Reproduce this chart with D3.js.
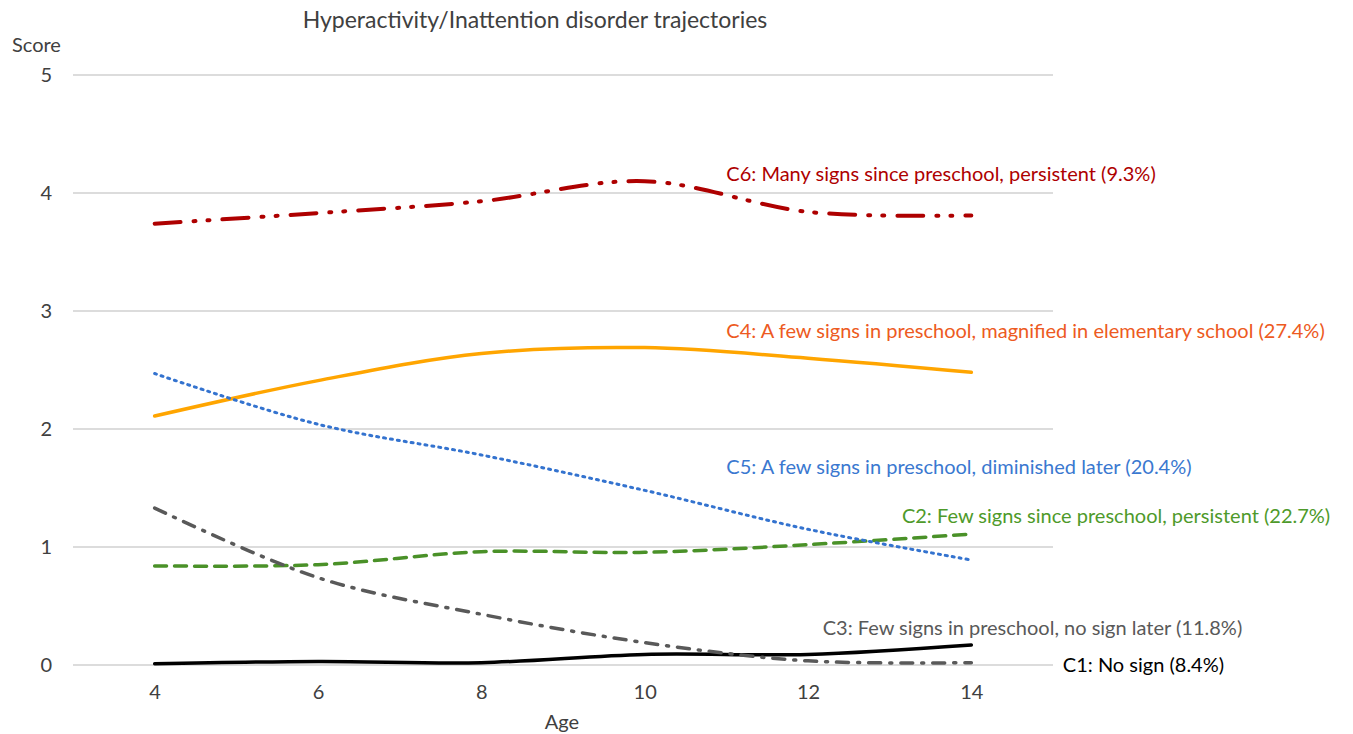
<!DOCTYPE html>
<html>
<head>
<meta charset="utf-8">
<script src="https://cdn.jsdelivr.net/npm/d3@7"></script>
<style>
  body { margin: 0; background: #fff; }
  svg text { font-family: Lato, "Open Sans", sans-serif; }
</style>
</head>
<body>
<div id="chart"></div>
<script>
// ----------- DATA ------------
const ages = [4, 6, 8, 10, 12, 14];
const yTicks = [0, 1, 2, 3, 4, 5];
const xTicks = [4, 6, 8, 10, 12, 14];

const c1Values = [0.01, 0.03, 0.02, 0.09, 0.09, 0.17];
const c2Values = [0.84, 0.85, 0.96, 0.955, 1.02, 1.11];
const c3Values = [1.33, 0.74, 0.43, 0.19, 0.035, 0.02];
const c4Values = [2.11, 2.41, 2.64, 2.69, 2.60, 2.48];
const c5Values = [2.47, 2.04, 1.78, 1.48, 1.15, 0.89];
const c6Values = [3.74, 3.83, 3.93, 4.10, 3.84, 3.81];

const seriesLabels = [
  'C1: No sign (8.4%)',
  'C2: Few signs since preschool, persistent (22.7%)',
  'C3: Few signs in preschool, no sign later (11.8%)',
  'C4: A few signs in preschool, magnified in elementary school (27.4%)',
  'C5: A few signs in preschool, diminished later (20.4%)',
  'C6: Many signs since preschool, persistent (9.3%)',
];

const series = [
  { key: 'C1', values: c1Values, color: '#000000', label: '#000000', dash: null, width: 3.5, lx: 15.12, ly: 0.0 },
  { key: 'C2', values: c2Values, color: '#4A9128', label: '#4E9A2A', dash: '12 8', width: 3.5, lx: 13.15, ly: 1.26 },
  { key: 'C3', values: c3Values, color: '#595959', label: '#595959', dash: '12 9 2 9', width: 3.5, lx: 12.18, ly: 0.31 },
  { key: 'C4', values: c4Values, color: '#FFA500', label: '#ED5A22', dash: null, width: 3.5, lx: 11.0, ly: 2.83 },
  { key: 'C5', values: c5Values, color: '#3473CF', label: '#3A78D0', dash: '2 5', width: 3, lx: 11.0, ly: 1.68 },
  { key: 'C6', values: c6Values, color: '#AE0000', label: '#AE0000', dash: '26 13 2 12 2 13', width: 4, lx: 11.0, ly: 4.16 },
];

// ----------- SVG ------------
const width = 1353, height = 734;
const svg = d3.select('#chart').append('svg')
  .attr('width', width)
  .attr('height', height);

const x = d3.scaleLinear().domain([3, 15]).range([73, 1053]);
const y = d3.scaleLinear().domain([0, 5]).range([665, 75]);

// title
svg.append('text')
  .attr('x', 535).attr('y', 28)
  .attr('text-anchor', 'middle')
  .style('font-size', '23px')
  .style('fill', '#404040')
  .text('Hyperactivity/Inattention disorder trajectories');

// gridlines
svg.append('g')
  .selectAll('line')
  .data(yTicks)
  .enter()
  .append('line')
  .attr('x1', x(3)).attr('x2', x(15))
  .attr('y1', d => y(d)).attr('y2', d => y(d))
  .attr('stroke', '#D0D0D0')
  .attr('stroke-width', 1.3);

// y axis
const yAxis = svg.append('g')
  .attr('transform', `translate(${x(3) - 21}, 0)`)
  .call(d3.axisLeft(y).tickValues(yTicks).tickFormat(d3.format('d')).tickSize(0).tickPadding(0));
yAxis.select('.domain').remove();
yAxis.selectAll('text')
  .style('font-size', '20px')
  .style('fill', '#404040');

svg.append('text')
  .attr('x', 12).attr('y', 52)
  .style('font-size', '20px')
  .style('fill', '#404040')
  .text('Score');

// x axis
const xAxis = svg.append('g')
  .attr('transform', `translate(0, ${y(0)})`)
  .call(d3.axisBottom(x).tickValues(xTicks).tickSize(0).tickPadding(20));
xAxis.select('.domain').remove();
xAxis.selectAll('text')
  .style('font-size', '20px')
  .style('fill', '#404040');

svg.append('text')
  .attr('x', 562).attr('y', 729)
  .attr('text-anchor', 'middle')
  .style('font-size', '20px')
  .style('fill', '#404040')
  .text('Age');

// LINES
const line = d3.line()
  .x((d, i) => x(ages[i]))
  .y(d => y(d))
  .curve(d3.curveCatmullRom.alpha(0.5));

svg.append('g')
  .selectAll('path')
  .data(series)
  .enter()
  .append('path')
  .attr('d', d => line(d.values))
  .attr('fill', 'none')
  .attr('stroke', d => d.color)
  .attr('stroke-width', d => d.width)
  .attr('stroke-linecap', 'round')
  .attr('stroke-dasharray', d => d.dash);

// LABELS
svg.append('g')
  .selectAll('text')
  .data(series)
  .enter()
  .append('text')
  .attr('x', d => x(d.lx))
  .attr('y', d => y(d.ly))
  .attr('dy', '0.35em')
  .style('font-size', '20px')
  .style('fill', d => d.label)
  .text((d, i) => seriesLabels[i]);
</script>
</body>
</html>
